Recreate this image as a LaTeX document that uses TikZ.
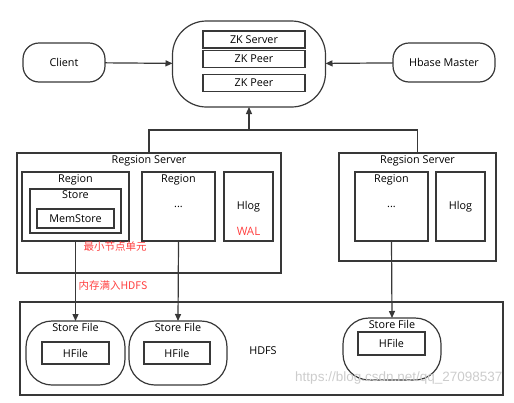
\documentclass[tikz,border=0pt]{standalone}
\usepackage{fontspec}
\setmainfont{Open Sans}
\newfontfamily\cjk{Noto Sans CJK SC}
\newfontfamily\wmfont{Liberation Sans}
\usetikzlibrary{arrows.meta,positioning}

\begin{document}
\begin{tikzpicture}[
  x=1pt, y=-1pt,
  font=\fontsize{10.8}{12}\selectfont,
  line width=1.2pt,
  box/.style={
    draw=black!78,
    line width=1.2pt,
    align=center,
    inner sep=1pt,
    outer sep=0pt
  },
  pill/.style={box, rounded corners=16pt},
  bigpill/.style={box, rounded corners=34pt},
  filepill/.style={box, rounded corners=26pt},
  toplabel/.style={anchor=north, inner sep=2pt},
  flow/.style={
    draw=black!78,
    line width=1.2pt,
    -{Triangle[length=7pt,width=6pt]}
  },
  note/.style={
    font=\cjk\fontsize{10.5}{12}\selectfont,
    text=red!75!white,
    anchor=west,
    inner sep=0pt
  }
]

\useasboundingbox (0,0) rectangle (514,402);

% zookeeper ensemble
\node[bigpill, minimum width=153pt, minimum height=86pt] (zk) at (249,64) {};

\node[box, minimum width=102pt, minimum height=17pt] (zks) at (254,39.5) {ZK Server};

\node[box, minimum width=102pt, minimum height=17pt] (zkp1) at (254,59) {ZK Peer};

\node[box, minimum width=102pt, minimum height=17pt] (zkp2) at (254,83) {ZK Peer};

\node[pill, minimum width=82pt, minimum height=39pt] (client) at (64,62.5) {Client};

\node[pill, minimum width=102pt, minimum height=39pt] (master) at (444,62.5) {Hbase Master};

\draw[flow] (client) -- (zk);
\draw[flow] (master) -- (zk);

% left region server
\node[box, minimum width=264pt, minimum height=120pt] (lrs) at (149,213) {};
\node[toplabel] at (lrs.north) {Regsion Server};

\node[box, minimum width=107pt, minimum height=69pt] (reg1) at (75.5,206.5) {};
\node[toplabel] at (reg1.north) {Region};

\node[box, minimum width=91pt, minimum height=44pt] (store) at (75.5,211) {};
\node[toplabel, yshift=1pt] at (store.north) {Store};

\node[box, minimum width=77pt, minimum height=19pt] (mem) at (75.5,218.5) {MemStore};

\node[box, minimum width=73pt, minimum height=69pt] (reg2) at (178.5,206.5) {};
\node[toplabel] at (reg2.north) {Region};
\node (dots2) at (178.5,207) {...};

\node[box, minimum width=49pt, minimum height=69pt] (hlog1) at (248.5,206.5) {};
\node (hlogtxt1) at (248.5,207) {Hlog};
\node[text=red!75!white, font=\fontsize{11.5}{12}\selectfont] (wal) at (248.5,231) {WAL};

% right region server
\node[box, minimum width=157pt, minimum height=108pt] (rrs) at (417.5,207) {};
\node[toplabel] at (rrs.north) {Regsion Server};

\node[box, minimum width=73pt, minimum height=69pt] (reg3) at (391.5,206.5) {};
\node[toplabel] at (reg3.north) {Region};
\node (dots3) at (391.5,207) {...};

\node[box, minimum width=49pt, minimum height=69pt] (hlog2) at (460.5,206.5) {Hlog};

% up to zookeeper
\coordinate (bus) at (249,130);
\draw[draw=black!78] (lrs.north) |- (bus) -| (rrs.north);
\draw[flow] (bus) -- (zk.south);

% hdfs
\node[box, minimum width=483pt, minimum height=93pt] (hdfs) at (261.5,348.5) {};
\node (hdfstxt) at (263,351) {HDFS};

\node[filepill, minimum width=99pt, minimum height=64pt] (sf1) at (75.5,353) {};
\node[toplabel] at (sf1.north) {Store File};
\node[box, minimum width=67pt, minimum height=22pt] (hf1) at (75.5,353) {HFile};

\node[filepill, minimum width=98pt, minimum height=64pt] (sf2) at (178,353) {};
\node[toplabel] at (sf2.north) {Store File};
\node[box, minimum width=66pt, minimum height=22pt] (hf2) at (177,353) {HFile};

\node[filepill, minimum width=98pt, minimum height=62pt] (sf3) at (392,349) {};
\node[toplabel] at (sf3.north) {Store File};
\node[box, minimum width=67pt, minimum height=23pt] (hf3) at (391.5,343.5) {HFile};

\draw[flow] (reg1.south) -- (sf1.north);
\draw[flow] (reg2.south) -- (sf2.north);
\draw[flow] (reg3.south) -- (sf3.north);

\node[note] (minunit) at (83,247) {最小节点单元};
\node[note] (flush) at (78,286) {内存满入HDFS};

\node[font=\wmfont\fontsize{13.5}{14}\selectfont, text=black!20, anchor=east, inner sep=0pt] (wm) at (503,378) {https://blog.csdn.net/qq\_27098537};

\end{tikzpicture}
\end{document}
